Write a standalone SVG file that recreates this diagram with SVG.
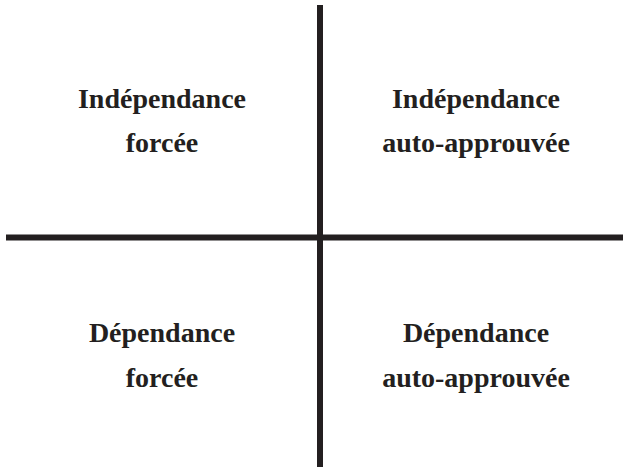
<svg xmlns="http://www.w3.org/2000/svg" width="628" height="467" viewBox="0 0 628 467">
  <style>
    .axis { stroke: #231f20; stroke-width: 6; fill: none; }
    .label { font-family: "Liberation Serif", "Times New Roman", serif; font-weight: bold; font-size: 28px; fill: #231f20; text-anchor: middle; }
  </style>
  <rect width="628" height="467" fill="#ffffff"/>
  <g id="connectors">
    <line class="axis" x1="320" y1="5" x2="320" y2="467"/>
    <line class="axis" x1="6" y1="237.5" x2="623" y2="237.5"/>
  </g>
  <g id="q-top-left">
    <text class="label" x="162" y="108">Indépendance</text>
    <text class="label" x="162" y="152">forcée</text>
  </g>
  <g id="q-top-right">
    <text class="label" x="476" y="108">Indépendance</text>
    <text class="label" x="476" y="152">auto-approuvée</text>
  </g>
  <g id="q-bottom-left">
    <text class="label" x="162" y="342">Dépendance</text>
    <text class="label" x="162" y="387">forcée</text>
  </g>
  <g id="q-bottom-right">
    <text class="label" x="476" y="342">Dépendance</text>
    <text class="label" x="476" y="387">auto-approuvée</text>
  </g>
</svg>
